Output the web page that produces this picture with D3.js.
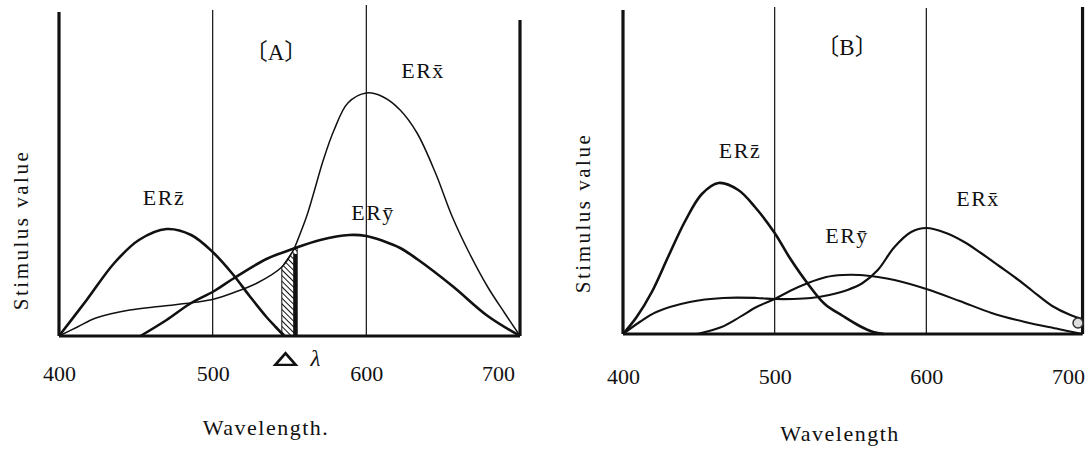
<!DOCTYPE html>
<html>
<head>
<meta charset="utf-8">
<script src="https://cdn.jsdelivr.net/npm/d3@7"></script>
<style>
  body { margin: 0; background: #fff; }
  svg text { font-family: "Liberation Serif", serif; fill: #111; }
</style>
</head>
<body>
<div class="chart"></div>
<script>
// wavelength ticks and the two thin guide lines
var waveTicks = [400, 500, 600, 700];
var guideWaves = [500, 600];

// Panel A curves: [wavelength, stimulus value]
var aErz = [[400,0],[418,36],[436,73],[452,96],[470,107],[486,101],[500,84],[513,62],[524,40],[535,19],[541,9],[546,1]];
var aEry = [[453,0],[470,16],[485,32],[501,45],[513,57],[535,77],[552,87],[570,96],[589,101],[600,100],[611,95],[622,88],[633,77],[656,50],[679,20],[700,0]];
var aErxLow = [[400,0],[412,9],[424,18],[446,26],[468,30],[490,34],[501,37],[513,43],[529,53],[545,69],[553,87]];
var aErxHigh = [[553,87],[561,119],[565,139],[572,176],[579,206],[588,233],[600,243],[611,239],[622,226],[633,203],[645,163],[656,119],[667,83],[679,49],[690,23],[700,0]];
var aBand = [[545,69],[553,87],[555,88]];

// Panel B curves
var bErz = [[400,0],[409,17],[419,42],[430,78],[441,113],[452,140],[463,151],[476,144],[487,127],[500,101],[510,76],[522,50],[533,30],[545,18],[556,8],[565,2],[572,0]];
var bEry = [[449,0],[465,7],[477,17],[488,27],[500,35],[510,43],[522,51],[534,57],[545,59],[556,59],[568,57],[579,54],[600,45],[622,33],[643,21],[665,12],[687,5],[703,0]];
var bErx = [[400,0],[411,12],[422,22],[444,32],[466,36],[488,36],[500,35],[512,35],[524,36],[536,39],[548,44],[558,51],[568,64],[579,87],[590,102],[600,106],[613,101],[625,92],[636,81],[648,68],[659,56],[670,43],[683,28],[695,19],[703,15]];
var bMark = [[700,11]];

var serif = "Liberation Serif";

var panels = [
  {
    x0: 59, x1: 520, base: 336, edge: 700, tops: [324, 326, 331, 316], labelPad: 29, lastShift: -22,
    curves: [{ d: aErz, w: 2.6 }, { d: aEry, w: 2.6 }, { d: aErxLow, w: 1.5 }, { d: aErxHigh, w: 1.5 }],
    band: aBand,
    title: { t: "A", x: 276, y: 52 },
    names: [{ t: "ERx\u0304", x: 423, y: 70 }, { t: "ERz\u0304", x: 164, y: 197 }, { t: "ERy\u0304", x: 373, y: 212 }],
    yTitle: { x: 21, y: 230 }, xTitle: { t: "Wavelength.", x: 266, y: 427 }
  },
  {
    x0: 623, x1: 1078, base: 334, edge: 703, tops: [324, 327, 326, 327], labelPad: 34, lastShift: -10,
    curves: [{ d: bErz, w: 2.6 }, { d: bEry, w: 2 }, { d: bErx, w: 2.2 }],
    marks: bMark,
    title: { t: "B", x: 847, y: 47 },
    names: [{ t: "ERz\u0304", x: 740, y: 150 }, { t: "ERy\u0304", x: 847, y: 235 }, { t: "ERx\u0304", x: 978, y: 198 }],
    yTitle: { x: 583, y: 213 }, xTitle: { t: "Wavelength", x: 840, y: 433 }
  }
];

var svg = d3.select(".chart").append("svg")
  .attr("width", 1092)
  .attr("height", 449)
  .style("font-family", serif);

// hatching for the narrow band in A
svg.append("defs").append("pattern")
  .attr("id", "hatch")
  .attr("patternUnits", "userSpaceOnUse")
  .attr("width", 4).attr("height", 4)
  .attr("patternTransform", "rotate(-45)")
  .append("line")
  .attr("x1", 0).attr("y1", 0).attr("x2", 0).attr("y2", 4)
  .style("stroke", "#111").style("stroke-width", 2);

panels.forEach(function (p) { drawPanel(p); });

function drawPanel(p) {
  var x = d3.scaleLinear().domain([400, 700]).range([p.x0, p.x1]);
  var y = d3.scaleLinear().domain([0, 330]).range([p.base, p.base - 330]);
  var g = svg.append("g");

  var line = d3.line()
    .x(function (d) { return x(d[0]); })
    .y(function (d) { return y(d[1]); })
    .curve(d3.curveCatmullRom.alpha(0.5));

  // frame uprights and guide lines
  var uprights = [400].concat(guideWaves).concat([p.edge]);
  g.selectAll(".upright")
    .data(uprights).enter()
    .append("line")
    .attr("x1", function (d) { return x(d); })
    .attr("x2", function (d) { return x(d); })
    .attr("y1", y(0))
    .attr("y2", function (d, i) { return y(p.tops[i]); })
    .style("stroke", "#111")
    .style("stroke-width", function (d, i) { return (i == 0 || i == uprights.length - 1) ? 3.2 : 1.2; });

  // hatched band
  if (p.band) {
    var area = d3.area()
      .x(function (d) { return x(d[0]); })
      .y0(y(0))
      .y1(function (d) { return y(d[1]); });
    g.append("path")
      .attr("d", area(p.band))
      .style("fill", "url(#hatch)")
      .style("stroke", "#111")
      .style("stroke-width", 1);
    var last = p.band[p.band.length - 1];
    g.append("line")
      .attr("x1", x(last[0]) - 2).attr("x2", x(last[0]) - 2)
      .attr("y1", y(0)).attr("y2", y(last[1] - 6))
      .style("stroke", "#111").style("stroke-width", 4);
  }

  // curves
  g.selectAll(".curve")
    .data(p.curves).enter()
    .append("path")
    .attr("d", function (d) { return line(d.d); })
    .style("fill", "none")
    .style("stroke", "#111")
    .style("stroke-width", function (d) { return d.w; });

  if (p.marks) {
    g.selectAll(".mark")
      .data(p.marks).enter()
      .append("circle")
      .attr("cx", function (d) { return x(d[0]); })
      .attr("cy", function (d) { return y(d[1]); })
      .attr("r", 5)
      .style("fill", "#ddd")
      .style("stroke", "#333")
      .style("stroke-width", 1.5);
  }

  // base line
  g.append("line")
    .attr("x1", x(400)).attr("x2", x(p.edge))
    .attr("y1", y(0)).attr("y2", y(0))
    .style("stroke", "#111").style("stroke-width", 3.2);

  // tick labels
  var axis = g.append("g")
    .attr("transform", "translate(0," + y(0) + ")")
    .call(d3.axisBottom(x).tickValues(waveTicks).tickSize(0).tickPadding(p.labelPad))
    .attr("font-family", serif);
  axis.select(".domain").remove();
  axis.selectAll("text")
    .attr("dx", function (d) { return d == 700 ? p.lastShift : 0; })
    .style("font-family", serif)
    .style("font-size", "22px")
    .style("fill", "#111");

  // panel title in tortoise-shell brackets
  var t = g.append("text")
    .attr("x", p.title.x).attr("y", p.title.y)
    .attr("dy", "0.35em")
    .attr("text-anchor", "middle")
    .style("font-family", serif)
    .style("font-size", "23px");
  t.append("tspan").text("\u3014").style("font-family", "Noto Sans CJK JP").style("font-size", "23px");
  t.append("tspan").text(p.title.t);
  t.append("tspan").text("\u3015").style("font-family", "Noto Sans CJK JP").style("font-size", "23px");

  g.selectAll(".name")
    .data(p.names).enter()
    .append("text")
    .attr("x", function (d) { return d.x; })
    .attr("y", function (d) { return d.y; })
    .attr("dy", "0.35em")
    .attr("text-anchor", "middle")
    .style("font-family", serif)
    .style("font-size", "22px")
    .style("letter-spacing", "1.5px")
    .text(function (d) { return d.t; });

  g.append("text")
    .attr("transform", "translate(" + p.yTitle.x + "," + p.yTitle.y + ") rotate(-90)")
    .attr("dy", "0.35em")
    .attr("text-anchor", "middle")
    .style("font-family", serif)
    .style("font-size", "21px")
    .style("letter-spacing", "2.5px")
    .text("Stimulus value");

  g.append("text")
    .attr("x", p.xTitle.x).attr("y", p.xTitle.y)
    .attr("dy", "0.35em")
    .attr("text-anchor", "middle")
    .style("font-family", serif)
    .style("font-size", "22px")
    .style("letter-spacing", "1.5px")
    .text(p.xTitle.t);

  // delta-lambda marker under the band
  if (p.band) {
    var mid = x((p.band[0][0] + p.band[p.band.length - 1][0]) / 2);
    g.append("path")
      .attr("d", d3.symbol(d3.symbolTriangle2, 180)())
      .attr("transform", "translate(" + (mid - 4) + ",361) scale(1.3,0.85)")
      .style("fill", "none")
      .style("stroke", "#111")
      .style("stroke-width", 2.4);
    g.append("text")
      .attr("x", mid + 26).attr("y", 358)
      .attr("dy", "0.35em")
      .attr("text-anchor", "middle")
      .style("font-family", serif)
      .style("font-style", "italic")
      .style("font-size", "23px")
      .text("\u03bb");
  }
}
</script>
</body>
</html>
